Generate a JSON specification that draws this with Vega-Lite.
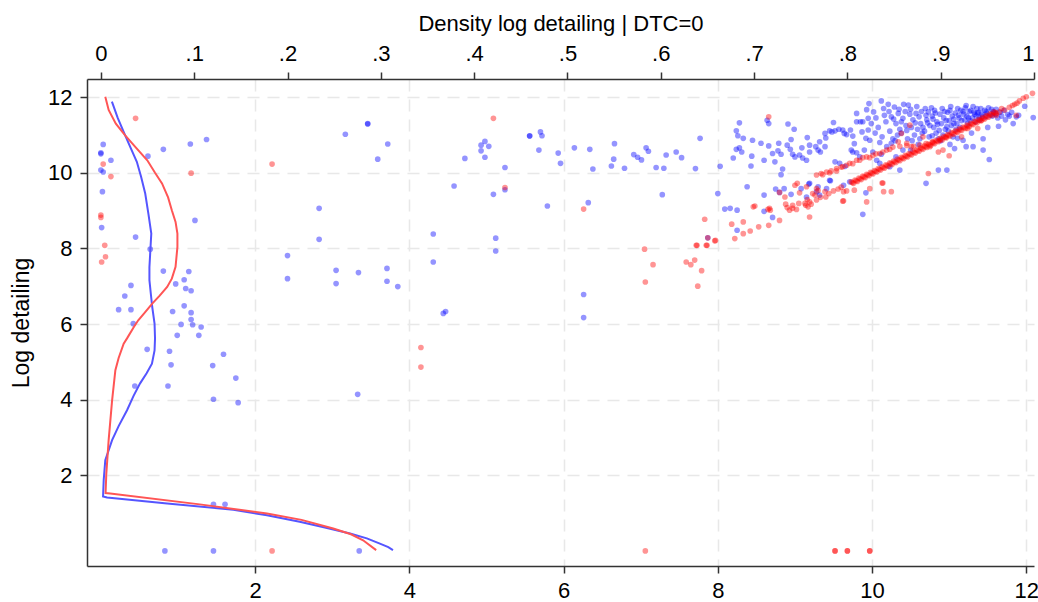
{
"$schema": "https://vega.github.io/schema/vega-lite/v6.json",
"autosize": {"type": "none"},
"width": 947, "height": 487,
"padding": {"left": 87, "top": 79, "right": 4, "bottom": 36},
"background": "white",
"datasets": {
"blue": [
{"x":0.03,"y":10.75},{"x":0.0,"y":10.53},{"x":0.0,"y":10.50},{"x":0.13,"y":10.33},{"x":0.0,"y":10.07},{"x":0.03,"y":10.02},{"x":0.02,"y":9.50},{"x":0.01,"y":8.55},{"x":0.45,"y":8.30},{"x":0.64,"y":7.98},{"x":0.61,"y":10.44},{"x":0.81,"y":10.62},{"x":1.16,"y":10.76},{"x":1.37,"y":10.88},{"x":1.22,"y":8.74},{"x":0.81,"y":7.40},{"x":1.14,"y":7.39},{"x":0.39,"y":7.02},{"x":0.97,"y":7.06},{"x":1.08,"y":7.17},{"x":1.10,"y":6.94},{"x":1.17,"y":6.88},{"x":0.31,"y":6.74},{"x":0.23,"y":6.38},{"x":0.39,"y":6.38},{"x":0.93,"y":6.33},{"x":1.08,"y":6.48},{"x":1.17,"y":6.30},{"x":1.17,"y":6.12},{"x":0.42,"y":6.01},{"x":1.04,"y":5.99},{"x":1.19,"y":5.98},{"x":1.30,"y":5.92},{"x":0.99,"y":5.70},{"x":1.27,"y":5.70},{"x":2.42,"y":7.81},{"x":2.42,"y":7.20},
{"x":0.60,"y":5.33},{"x":0.89,"y":5.28},{"x":1.59,"y":5.20},{"x":0.91,"y":4.92},{"x":1.45,"y":4.90},{"x":1.75,"y":4.57},{"x":0.44,"y":4.36},{"x":0.87,"y":4.36},{"x":1.46,"y":4.01},{"x":1.78,"y":3.92},{"x":3.33,"y":4.14},{"x":4.44,"y":6.28},{"x":4.47,"y":6.33},{"x":1.46,"y":1.23},{"x":1.61,"y":1.23},{"x":0.83,"y":0},{"x":1.46,"y":0},{"x":3.35,"y":0},{"x":6.26,"y":6.17},
{"x":3.17,"y":11.02},{"x":3.46,"y":11.29},{"x":3.46,"y":11.30},{"x":3.72,"y":10.76},{"x":3.59,"y":10.36},{"x":2.83,"y":9.06},{"x":2.83,"y":8.24},{"x":3.05,"y":7.42},{"x":3.05,"y":7.07},{"x":3.34,"y":7.36},{"x":3.71,"y":7.47},{"x":3.71,"y":7.13},{"x":3.85,"y":6.99},{"x":4.31,"y":8.38},{"x":4.31,"y":7.64},{"x":4.72,"y":10.38},{"x":4.58,"y":9.65},{"x":4.93,"y":10.73},{"x":4.98,"y":10.83},{"x":5.03,"y":10.70},{"x":4.93,"y":10.58},{"x":4.98,"y":10.41},{"x":5.24,"y":10.14},{"x":5.09,"y":9.43},{"x":5.24,"y":9.55},{"x":5.12,"y":8.27},{"x":5.12,"y":7.93},
{"x":5.56,"y":10.98},{"x":5.56,"y":10.97},{"x":5.70,"y":11.08},{"x":5.72,"y":10.98},{"x":5.68,"y":10.60},{"x":5.93,"y":10.52},{"x":5.96,"y":10.25},{"x":5.79,"y":9.12},{"x":6.14,"y":10.66},{"x":6.34,"y":10.62},{"x":6.38,"y":10.10},{"x":6.32,"y":9.21},{"x":6.26,"y":6.78},{"x":6.66,"y":10.77},{"x":6.65,"y":10.36},{"x":6.62,"y":10.18},{"x":6.79,"y":10.12},{"x":6.91,"y":10.48},{"x":6.96,"y":10.41},{"x":7.01,"y":10.34},{"x":7.07,"y":10.66},{"x":7.10,"y":10.57},{"x":7.28,"y":9.42},{"x":7.20,"y":10.14},{"x":7.30,"y":10.12},{"x":7.33,"y":10.47},{"x":7.46,"y":10.55},{"x":7.53,"y":10.40},{"x":7.71,"y":10.11},{"x":7.77,"y":10.91},
{"x":8.0,"y":9.45},{"x":8.03,"y":10.17},{"x":8.09,"y":9.04},{"x":8.16,"y":9.06},{"x":8.25,"y":9.01},{"x":8.25,"y":8.48},{"x":7.87,"y":8.28},
{"x":8.20,"y":10.39},{"x":8.24,"y":11.11},{"x":8.28,"y":11.32},{"x":8.26,"y":10.98},{"x":8.33,"y":10.91},{"x":8.24,"y":10.62},{"x":8.28,"y":10.66},{"x":8.31,"y":10.55},{"x":8.45,"y":10.86},{"x":8.56,"y":10.78},{"x":8.44,"y":10.44},{"x":8.43,"y":10.18},{"x":8.60,"y":10.33},{"x":8.64,"y":11.39},{"x":8.66,"y":11.30},{"x":8.66,"y":10.71},{"x":8.71,"y":10.51},{"x":8.74,"y":10.29},{"x":8.78,"y":10.58},{"x":8.79,"y":10.78},{"x":8.82,"y":10.49},{"x":8.84,"y":10.10},{"x":8.82,"y":9.95},{"x":8.90,"y":10.73},{"x":8.91,"y":11.29},{"x":8.95,"y":10.88},{"x":8.94,"y":10.62},{"x":8.97,"y":10.49},{"x":9.0,"y":10.42},{"x":8.99,"y":11.15},{"x":9.06,"y":10.47},{"x":9.10,"y":10.39},{"x":9.15,"y":10.33},{"x":9.09,"y":10.66},{"x":9.19,"y":10.73},{"x":9.19,"y":10.55},{"x":9.16,"y":10.93},{"x":9.27,"y":10.69},{"x":9.32,"y":10.82},{"x":9.33,"y":10.55},{"x":9.39,"y":10.69},{"x":9.40,"y":10.92},{"x":9.39,"y":11.04},{"x":9.45,"y":11.11},{"x":9.48,"y":11.08},{"x":9.50,"y":11.33},{"x":9.52,"y":11.11},{"x":9.57,"y":11.15},{"x":9.62,"y":11.13},{"x":9.64,"y":11.04},{"x":9.67,"y":11.01},{"x":9.72,"y":11.13},{"x":9.75,"y":10.97},{"x":9.77,"y":10.77},{"x":9.80,"y":11.35},{"x":9.80,"y":11.57},{"x":9.85,"y":11.35},{"x":9.88,"y":11.35},{"x":9.87,"y":11.08},{"x":9.73,"y":10.60},{"x":9.75,"y":10.55},{"x":9.80,"y":10.53},{"x":9.84,"y":10.42},{"x":9.90,"y":10.60},{"x":9.93,"y":11.67},{"x":9.96,"y":11.83},{"x":9.95,"y":11.44},{"x":9.95,"y":11.13},{"x":9.92,"y":10.91},
{"x":8.38,"y":9.63},{"x":8.60,"y":9.41},{"x":8.60,"y":8.98},{"x":8.71,"y":8.82},{"x":8.75,"y":9.57},{"x":8.86,"y":9.58},{"x":8.95,"y":9.43},{"x":9.08,"y":9.58},{"x":9.15,"y":9.36},{"x":9.18,"y":9.70},{"x":9.28,"y":9.50},{"x":9.32,"y":9.41},{"x":9.41,"y":9.58},{"x":9.46,"y":9.79},{"x":9.63,"y":9.67},{"x":9.71,"y":9.76},{"x":9.92,"y":9.47},{"x":9.88,"y":8.90},{"x":8.80,"y":9.48},
{"x":9.30,"y":10.60},{"x":9.52,"y":10.29},{"x":9.58,"y":10.25},{"x":9.65,"y":10.17},{"x":9.45,"y":9.80},{"x":9.30,"y":9.63},{"x":9.19,"y":9.72},
{"x":9.97,"y":10.86},{"x":10.01,"y":10.55},{"x":10.06,"y":10.33},{"x":10.12,"y":10.49},{"x":10.19,"y":10.69},{"x":10.25,"y":10.78},{"x":10.31,"y":10.42},{"x":10.40,"y":10.60},{"x":10.70,"y":9.72},{"x":10.86,"y":10.07},{"x":10.36,"y":10.07},{"x":10.23,"y":10.16},{"x":10.10,"y":10.25},
{"x":10.02,"y":11.61},{"x":9.99,"y":11.30},{"x":10.04,"y":11.05},
{"x":10.12,"y":11.90},{"x":10.16,"y":11.52},{"x":10.08,"y":11.2},{"x":10.13,"y":10.95},
{"x":10.21,"y":11.81},{"x":10.25,"y":11.48},{"x":10.18,"y":11.35},{"x":10.23,"y":11.1},{"x":10.27,"y":10.9},
{"x":10.29,"y":11.74},{"x":10.34,"y":11.57},{"x":10.31,"y":11.3},{"x":10.36,"y":11.15},{"x":10.33,"y":11.0},
{"x":10.41,"y":11.81},{"x":10.40,"y":11.44},{"x":10.44,"y":11.25},{"x":10.38,"y":11.05},{"x":10.46,"y":10.9},
{"x":10.47,"y":11.79},{"x":10.49,"y":11.55},{"x":10.53,"y":11.4},{"x":10.51,"y":11.2},{"x":10.55,"y":11.0},{"x":10.52,"y":10.85},
{"x":10.57,"y":11.57},{"x":10.61,"y":11.48},{"x":10.63,"y":11.3},{"x":10.59,"y":11.15},{"x":10.65,"y":11.05},{"x":10.62,"y":10.9},
{"x":10.73,"y":11.61},{"x":10.69,"y":11.7},{"x":10.71,"y":11.4},{"x":10.75,"y":11.25},{"x":10.68,"y":11.1},{"x":10.74,"y":10.95},
{"x":10.81,"y":11.65},{"x":10.78,"y":11.5},{"x":10.84,"y":11.35},{"x":10.80,"y":11.2},{"x":10.83,"y":11.05},{"x":10.86,"y":10.9},
{"x":10.91,"y":11.7},{"x":10.88,"y":11.55},{"x":10.93,"y":11.45},{"x":10.90,"y":11.3},{"x":10.95,"y":11.15},{"x":10.92,"y":11.0},{"x":10.89,"y":10.85},
{"x":11.02,"y":11.75},{"x":10.98,"y":11.6},{"x":11.04,"y":11.5},{"x":11.0,"y":11.38},{"x":11.03,"y":11.25},{"x":10.99,"y":11.1},{"x":11.05,"y":10.95},{"x":11.01,"y":10.75},{"x":10.97,"y":10.07},
{"x":11.11,"y":11.7},{"x":11.08,"y":11.58},{"x":11.13,"y":11.45},{"x":11.10,"y":11.3},{"x":11.14,"y":11.2},{"x":11.11,"y":10.91},{"x":11.07,"y":10.64},
{"x":11.21,"y":11.72},{"x":11.18,"y":11.62},{"x":11.23,"y":11.5},{"x":11.20,"y":11.4},{"x":11.24,"y":11.3},{"x":11.18,"y":10.86},{"x":11.22,"y":10.69},
{"x":11.31,"y":11.75},{"x":11.28,"y":11.65},{"x":11.33,"y":11.55},{"x":11.30,"y":11.45},{"x":11.34,"y":11.35},{"x":11.29,"y":11.05},{"x":11.31,"y":10.69},
{"x":11.41,"y":11.7},{"x":11.38,"y":11.6},{"x":11.43,"y":11.5},{"x":11.40,"y":11.4},{"x":11.44,"y":10.9},{"x":11.44,"y":10.6},
{"x":11.51,"y":11.72},{"x":11.48,"y":11.62},{"x":11.53,"y":11.52},{"x":11.50,"y":11.2},{"x":11.52,"y":10.35},
{"x":11.61,"y":11.68},{"x":11.58,"y":11.58},{"x":11.63,"y":11.45},{"x":11.64,"y":11.23},
{"x":11.71,"y":11.65},{"x":11.76,"y":11.54},{"x":11.73,"y":11.4},
{"x":11.81,"y":11.6},{"x":11.78,"y":11.5},{"x":11.83,"y":11.3},
{"x":11.90,"y":11.52},{"x":11.87,"y":11.48},{"x":11.98,"y":11.76},{"x":12.09,"y":11.46},
{"x":10.05,"y":11.45},{"x":10.15,"y":11.7},{"x":10.22,"y":11.62},{"x":10.28,"y":11.42},{"x":10.35,"y":11.68},{"x":10.38,"y":11.35},{"x":10.43,"y":11.62},{"x":10.45,"y":11.12},{"x":10.50,"y":11.68},{"x":10.56,"y":11.32},{"x":10.58,"y":11.75},{"x":10.64,"y":11.62},{"x":10.66,"y":11.2},{"x":10.70,"y":11.52},{"x":10.72,"y":11.32},{"x":10.77,"y":11.72},{"x":10.79,"y":11.42},{"x":10.82,"y":11.58},{"x":10.85,"y":11.28},{"x":10.87,"y":11.12},{"x":10.94,"y":11.62},{"x":10.96,"y":11.38},{"x":10.97,"y":11.22},{"x":11.01,"y":11.65},{"x":11.06,"y":11.42},{"x":11.06,"y":11.3},{"x":11.09,"y":11.15},{"x":11.12,"y":11.52},{"x":11.15,"y":11.65},{"x":11.16,"y":11.38},{"x":11.19,"y":11.55},{"x":11.22,"y":11.78},{"x":11.25,"y":11.45},{"x":11.26,"y":11.62},{"x":11.27,"y":11.38},{"x":11.32,"y":11.6},{"x":11.35,"y":11.5},{"x":11.36,"y":11.7},{"x":11.37,"y":11.58},{"x":11.39,"y":11.45},{"x":11.42,"y":11.55},{"x":11.46,"y":11.65},{"x":11.47,"y":11.48},{"x":11.49,"y":11.58},{"x":11.55,"y":11.68},{"x":11.56,"y":11.5},{"x":11.57,"y":11.62},{"x":11.6,"y":11.55},{"x":11.66,"y":11.6},{"x":11.68,"y":11.5},{"x":10.6,"y":10.75},{"x":10.78,"y":10.98},{"x":10.3,"y":10.85},{"x":10.1,"y":10.8},{"x":10.5,"y":10.6}
],
"red": [
{"x":0.45,"y":11.44},{"x":0.03,"y":10.23},{"x":0.13,"y":9.90},{"x":1.17,"y":9.99},{"x":2.22,"y":10.23},{"x":0.0,"y":8.88},{"x":0.0,"y":8.82},{"x":0.05,"y":8.08},{"x":0.06,"y":7.78},{"x":0.01,"y":7.64},{"x":2.22,"y":0},{"x":4.15,"y":5.38},{"x":4.15,"y":4.86},{"x":7.06,"y":0},{"x":9.52,"y":0},{"x":9.52,"y":0},{"x":9.68,"y":0},{"x":9.68,"y":0},{"x":9.97,"y":0},{"x":9.97,"y":0},
{"x":5.09,"y":11.44},{"x":5.24,"y":9.61},{"x":6.26,"y":9.04},{"x":7.05,"y":7.98},{"x":7.16,"y":7.57},{"x":7.06,"y":7.11},{"x":7.72,"y":8.08},{"x":7.59,"y":7.64},{"x":7.65,"y":7.57},{"x":7.70,"y":7.69},{"x":7.74,"y":7.0},{"x":7.73,"y":8.08},{"x":7.85,"y":8.08},{"x":7.87,"y":8.28},{"x":7.79,"y":7.41},{"x":7.97,"y":8.21},{"x":7.83,"y":8.77},{"x":7.86,"y":8.08},{"x":7.96,"y":8.20},{"x":8.18,"y":8.64},{"x":8.22,"y":8.26},{"x":8.33,"y":8.39},{"x":8.42,"y":8.46},{"x":8.53,"y":8.57},{"x":8.66,"y":8.61},{"x":8.80,"y":8.74},{"x":8.33,"y":8.70},{"x":8.46,"y":9.10},{"x":8.48,"y":9.12},{"x":8.67,"y":9.06},{"x":8.68,"y":9.01},{"x":8.80,"y":9.48},{"x":8.87,"y":9.36},{"x":8.88,"y":9.17},{"x":8.90,"y":9.08},{"x":8.93,"y":9.01},{"x":8.97,"y":9.06},{"x":9.02,"y":9.03},{"x":9.05,"y":9.19},{"x":9.14,"y":9.14},{"x":9.17,"y":9.10},{"x":9.21,"y":9.17},{"x":9.06,"y":9.47},{"x":9.00,"y":9.67},{"x":9.03,"y":9.72},{"x":9.15,"y":9.63},{"x":9.19,"y":8.83},{"x":9.28,"y":9.28},{"x":9.33,"y":9.35},{"x":9.39,"y":9.50},{"x":9.40,"y":9.36},{"x":9.44,"y":9.45},{"x":9.28,"y":9.58},{"x":9.26,"y":9.41},{"x":9.16,"y":9.29},{"x":9.63,"y":9.26},{"x":9.67,"y":9.52},{"x":9.77,"y":9.54},{"x":9.56,"y":9.57},{"x":9.93,"y":9.23},{"x":8.65,"y":9.03},{"x":8.97,"y":9.14},{"x":9.13,"y":9.19},{"x":9.19,"y":9.23},{"x":9.23,"y":9.45},{"x":9.30,"y":9.53},{"x":10.14,"y":9.73},{"x":10.15,"y":9.50},{"x":10.25,"y":9.50},{"x":9.97,"y":9.58},{"x":10.73,"y":9.98},{"x":8.66,"y":11.48},{"x":9.62,"y":9.25},{"x":9.63,"y":9.50},{"x":9.50,"y":9.52},{"x":9.60,"y":9.62},
{"x":9.34,"y":9.98},{"x":9.41,"y":10.02},{"x":9.47,"y":10.05},{"x":9.54,"y":10.11},{"x":9.60,"y":10.15},{"x":9.67,"y":10.20},{"x":9.75,"y":10.24},{"x":9.84,"y":10.33},{"x":9.93,"y":10.42},{"x":10.01,"y":10.46},{"x":10.10,"y":10.51},{"x":10.19,"y":10.60},{"x":10.27,"y":10.68},{"x":10.36,"y":10.70},{"x":10.45,"y":10.72},{"x":10.54,"y":10.70},{"x":10.62,"y":10.73},{"x":10.70,"y":10.77},{"x":10.79,"y":10.82},{"x":10.88,"y":10.86},{"x":10.96,"y":10.95},{"x":9.36,"y":9.95},{"x":9.45,"y":10.0},{"x":9.54,"y":10.05},{"x":9.62,"y":10.16},{"x":9.71,"y":10.25},{"x":9.80,"y":10.33},{"x":9.88,"y":10.40},{"x":9.28,"y":9.94},{"x":9.97,"y":10.40},{"x":10.05,"y":10.50},{"x":10.14,"y":10.55},{"x":10.23,"y":10.62},
{"x":10.49,"y":11.26},{"x":10.38,"y":11.04},{"x":10.45,"y":10.78},{"x":10.66,"y":10.95},{"x":11.16,"y":10.95},{"x":11.24,"y":11.17},{"x":11.37,"y":11.17},{"x":11.42,"y":11.39},{"x":11.0,"y":10.45},{"x":10.92,"y":10.6},{"x":10.86,"y":10.55},{"x":10.75,"y":10.69},{"x":10.13,"y":9.73},{"x":11.87,"y":11.52},{"x":11.61,"y":11.52},{"x":10.51,"y":10.69},{"x":10.34,"y":10.82},
{"x":11.65,"y":11.61},{"x":11.72,"y":11.66},{"x":11.78,"y":11.73},{"x":11.85,"y":11.81},{"x":11.91,"y":11.90},{"x":11.96,"y":11.97},{"x":12.0,"y":12.01},{"x":12.08,"y":12.1},{"x":11.68,"y":11.70},{"x":11.82,"y":11.78},{"x":11.88,"y":11.84},
{"x":9.73,"y":9.76},{"x":9.78,"y":9.81},{"x":9.83,"y":9.86},{"x":9.88,"y":9.91},{"x":9.93,"y":9.96},{"x":9.98,"y":10.01},{"x":10.03,"y":10.06},{"x":10.08,"y":10.11},{"x":10.13,"y":10.16},{"x":10.18,"y":10.21},{"x":10.23,"y":10.26},{"x":10.28,"y":10.31},{"x":10.33,"y":10.36},{"x":10.38,"y":10.41},{"x":10.43,"y":10.46},{"x":10.48,"y":10.51},{"x":10.53,"y":10.56},{"x":10.58,"y":10.61},{"x":10.63,"y":10.66},{"x":10.68,"y":10.71},{"x":10.73,"y":10.76},{"x":10.78,"y":10.81},{"x":10.83,"y":10.86},{"x":10.88,"y":10.91},{"x":10.93,"y":10.96},{"x":10.98,"y":11.01},{"x":11.03,"y":11.06},{"x":11.08,"y":11.11},{"x":11.13,"y":11.16},{"x":11.18,"y":11.21},{"x":11.23,"y":11.26},{"x":11.28,"y":11.31},{"x":11.33,"y":11.36},{"x":11.38,"y":11.41},{"x":11.43,"y":11.46},{"x":11.48,"y":11.51},{"x":11.53,"y":11.56},{"x":11.58,"y":11.61},
{"x":9.76,"y":9.72},{"x":9.81,"y":9.77},{"x":9.86,"y":9.82},{"x":9.91,"y":9.87},{"x":9.96,"y":9.92},{"x":10.01,"y":9.97},{"x":10.06,"y":10.02},{"x":10.11,"y":10.07},{"x":10.16,"y":10.12},{"x":10.21,"y":10.17},{"x":10.26,"y":10.22},{"x":10.31,"y":10.27},{"x":10.36,"y":10.32},{"x":10.41,"y":10.37},{"x":10.46,"y":10.42},{"x":10.51,"y":10.47},{"x":10.56,"y":10.52},{"x":10.61,"y":10.57},{"x":10.66,"y":10.62},{"x":10.71,"y":10.67},{"x":10.76,"y":10.72},{"x":10.81,"y":10.77},{"x":10.86,"y":10.82},{"x":10.91,"y":10.87},{"x":10.96,"y":10.92},{"x":11.01,"y":10.97},{"x":11.06,"y":11.02},{"x":11.11,"y":11.07},{"x":11.16,"y":11.12},{"x":11.21,"y":11.17},{"x":11.26,"y":11.22},{"x":11.31,"y":11.27},{"x":11.36,"y":11.32},{"x":11.41,"y":11.37},{"x":11.46,"y":11.42},{"x":11.51,"y":11.47},{"x":11.56,"y":11.52},{"x":11.61,"y":11.57},
{"x":9.745,"y":9.74},{"x":9.795,"y":9.79},{"x":9.845,"y":9.84},{"x":9.895,"y":9.89},{"x":9.945,"y":9.94},{"x":9.995,"y":9.99},{"x":10.045,"y":10.04},{"x":10.095,"y":10.09},{"x":10.145,"y":10.14},{"x":10.195,"y":10.19},{"x":10.245,"y":10.24},{"x":10.295,"y":10.29},{"x":10.345,"y":10.34},{"x":10.395,"y":10.39},{"x":10.445,"y":10.44},{"x":10.495,"y":10.49},{"x":10.545,"y":10.54},{"x":10.595,"y":10.59},{"x":10.645,"y":10.64},{"x":10.695,"y":10.69},{"x":10.745,"y":10.74},{"x":10.795,"y":10.79},{"x":10.845,"y":10.84},{"x":10.895,"y":10.89},{"x":10.945,"y":10.94},{"x":10.995,"y":10.99},{"x":11.045,"y":11.04},{"x":11.095,"y":11.09},{"x":11.145,"y":11.14},{"x":11.195,"y":11.19},{"x":11.245,"y":11.24},{"x":11.295,"y":11.29},{"x":11.345,"y":11.34},{"x":11.395,"y":11.39},{"x":11.445,"y":11.44},{"x":11.495,"y":11.49},{"x":11.545,"y":11.54},{"x":11.595,"y":11.59}
],
"bdens": [
{"d":0.0118,"y":11.88},{"d":0.018,"y":11.45},{"d":0.026,"y":10.99},{"d":0.032,"y":10.65},{"d":0.0385,"y":10.29},{"d":0.043,"y":9.9},{"d":0.0475,"y":9.45},{"d":0.051,"y":8.9},{"d":0.054,"y":8.39},{"d":0.053,"y":7.95},{"d":0.052,"y":7.5},{"d":0.052,"y":7.16},{"d":0.0535,"y":6.8},{"d":0.055,"y":6.45},{"d":0.0575,"y":6.01},{"d":0.058,"y":5.62},{"d":0.0575,"y":5.3},{"d":0.0547,"y":4.95},{"d":0.049,"y":4.7},{"d":0.042,"y":4.43},{"d":0.035,"y":4.1},{"d":0.028,"y":3.72},{"d":0.019,"y":3.3},{"d":0.012,"y":2.93},{"d":0.0047,"y":2.4},{"d":0.003,"y":1.87},{"d":0.0023,"y":1.44},{"d":0.0066,"y":1.41},{"d":0.071,"y":1.25},{"d":0.142,"y":1.09},{"d":0.178,"y":0.94},{"d":0.213,"y":0.77},{"d":0.24,"y":0.62},{"d":0.267,"y":0.46},{"d":0.285,"y":0.33},{"d":0.299,"y":0.19},{"d":0.308,"y":0.1},{"d":0.313,"y":0.02}
],
"rdens": [
{"d":0.0047,"y":12.01},{"d":0.0083,"y":11.66},{"d":0.016,"y":11.3},{"d":0.026,"y":10.99},{"d":0.038,"y":10.65},{"d":0.0497,"y":10.33},{"d":0.058,"y":10.0},{"d":0.0655,"y":9.72},{"d":0.072,"y":9.35},{"d":0.076,"y":9.01},{"d":0.08,"y":8.7},{"d":0.082,"y":8.39},{"d":0.082,"y":8.04},{"d":0.080,"y":7.51},{"d":0.076,"y":7.2},{"d":0.071,"y":6.98},{"d":0.063,"y":6.75},{"d":0.055,"y":6.54},{"d":0.047,"y":6.3},{"d":0.040,"y":6.10},{"d":0.0353,"y":5.92},{"d":0.028,"y":5.62},{"d":0.0244,"y":5.48},{"d":0.019,"y":5.1},{"d":0.0155,"y":4.78},{"d":0.012,"y":3.98},{"d":0.0083,"y":2.93},{"d":0.0058,"y":2.04},{"d":0.005,"y":1.53},{"d":0.01,"y":1.52},{"d":0.106,"y":1.23},{"d":0.178,"y":0.99},{"d":0.215,"y":0.82},{"d":0.249,"y":0.59},{"d":0.268,"y":0.44},{"d":0.281,"y":0.28},{"d":0.295,"y":0.02}
]
},
"layer": [
{
"layer": [
{"data": {"name": "blue"},
 "mark": {"type": "circle", "size": 32, "color": "#0000ff", "opacity": 0.42},
 "encoding": {
  "x": {"field": "x", "type": "quantitative", "scale": {"domain": [-0.18, 12.1], "nice": false, "zero": false},
        "axis": {"orient": "bottom", "values": [2,4,6,8,10,12], "format": "d", "title": null, "grid": true, "labelPadding": 7}},
  "y": {"field": "y", "type": "quantitative", "scale": {"domain": [-0.4, 12.48], "nice": false, "zero": false},
        "axis": {"values": [2,4,6,8,10,12], "format": "d", "title": "Log detailing", "grid": true, "labelPadding": 8, "titlePadding": 14, "titleFontSize": 23}}
 }},
{"data": {"name": "red"},
 "mark": {"type": "circle", "size": 32, "color": "#ff0000", "opacity": 0.42},
 "encoding": {
  "x": {"field": "x", "type": "quantitative"},
  "y": {"field": "y", "type": "quantitative"}
 }}
]
},
{
"layer": [
{"data": {"name": "bdens"},
 "mark": {"type": "line", "color": "#5555ff", "strokeWidth": 2},
 "encoding": {
  "x": {"field": "d", "type": "quantitative", "scale": {"domain": [-0.0149, 1.0], "nice": false, "zero": false},
        "axis": {"orient": "top", "values": [0,0.1,0.2,0.3,0.4,0.5,0.6,0.7,0.8,0.9,1], "grid": false, "title": "Density log detailing | DTC=0", "labelPadding": 7, "titlePadding": 7, "labelFlush": true,
                 "labelExpr": "datum.value == 0 ? '0' : datum.value == 1 ? '1' : replace(format(datum.value, '.1f'), '0.', '.')"}},
  "y": {"field": "y", "type": "quantitative"},
  "order": {"field": "y", "type": "quantitative", "sort": "descending"}
 }},
{"data": {"name": "rdens"},
 "mark": {"type": "line", "color": "#ff5555", "strokeWidth": 2},
 "encoding": {
  "x": {"field": "d", "type": "quantitative"},
  "y": {"field": "y", "type": "quantitative"},
  "order": {"field": "y", "type": "quantitative", "sort": "descending"}
 }}
]
}
],
"resolve": {"scale": {"x": "independent"}, "axis": {"x": "independent"}},
"config": {
 "view": {"stroke": null},
 "axis": {"labelFont": "Liberation Sans", "titleFont": "Liberation Sans", "labelFontSize": 22, "titleFontSize": 22, "titleFontWeight": "normal",
          "labelColor": "#000000", "titleColor": "#000000", "domainColor": "#333333", "tickColor": "#333333", "domainWidth": 1.5, "tickWidth": 1.5, "tickSize": 7,
          "gridColor": "#e8e8e8", "gridDash": [12, 8], "gridWidth": 1.5, "labelOverlap": false, "labelFlush": false}
}
}
